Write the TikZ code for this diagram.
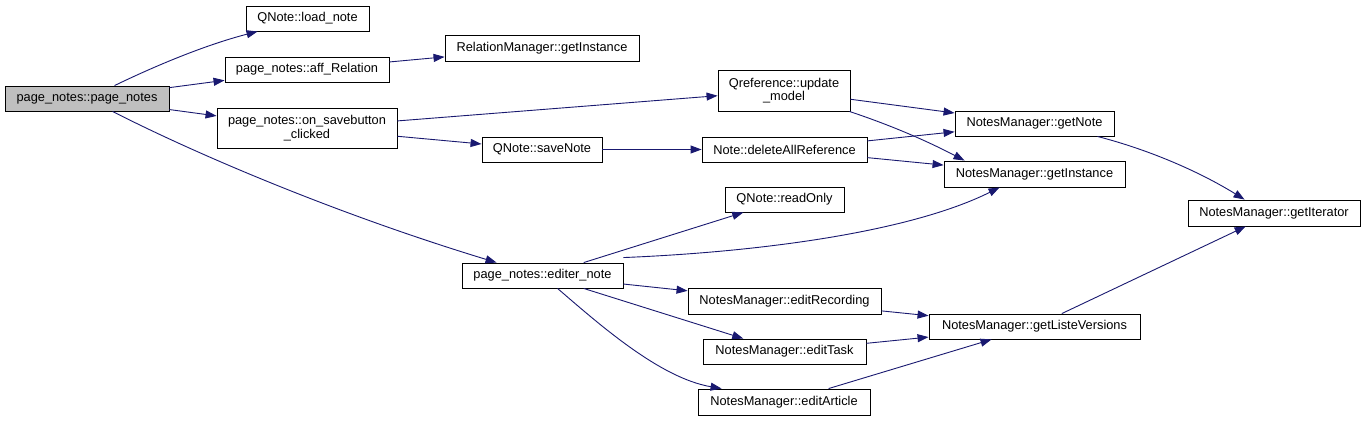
\documentclass[tikz,border=0pt]{standalone}
\usepackage{fontspec}
\setmainfont{Liberation Sans}
\usetikzlibrary{arrows.meta}
\definecolor{edgeblue}{HTML}{191970}
\definecolor{rootgray}{HTML}{BFBFBF}
\begin{document}
\begin{tikzpicture}[x=1pt,y=-1pt,
  fn/.style={draw=black,line width=0.9pt,inner sep=0pt,align=center,font=\fontsize{12.8}{13.5}\selectfont,fill=white},
  call/.style={draw=edgeblue,line width=0.9pt,-{Triangle[length=11pt,width=8pt]},fill=none}]
\useasboundingbox[fill=white] (0,0) rectangle (1365,421);
\node[fn,fill=rootgray,minimum width=164,minimum height=25] (pn) at (87,98.5) {page\_notes::page\_notes};
\node[fn,minimum width=123,minimum height=25] (ln) at (307.5,18.5) {QNote::load\_note};
\node[fn,minimum width=164,minimum height=25] (ar) at (307,69.5) {page\_notes::aff\_Relation};
\node[fn,minimum width=180,minimum height=40] (os) at (307,128) {page\_notes::on\_savebutton\\\_clicked};
\node[fn,minimum width=194,minimum height=26] (rm) at (542,48) {RelationManager::getInstance};
\node[fn,minimum width=132,minimum height=41] (um) at (784,90.5) {Qreference::update\\\_model};
\node[fn,minimum width=120,minimum height=25] (sn) at (542,149.5) {QNote::saveNote};
\node[fn,minimum width=165,minimum height=25] (da) at (784.5,149.5) {Note::deleteAllReference};
\node[fn,minimum width=119,minimum height=25] (ro) at (784.5,199.5) {QNote::readOnly};
\node[fn,minimum width=159,minimum height=25] (gn) at (1034.5,123.5) {NotesManager::getNote};
\node[fn,minimum width=181,minimum height=26] (gi) at (1034.5,174) {NotesManager::getInstance};
\node[fn,minimum width=172,minimum height=26] (it) at (1274,213) {NotesManager::getIterator};
\node[fn,minimum width=211,minimum height=25] (lv) at (1034.5,326.5) {NotesManager::getListeVersions};
\node[fn,minimum width=161,minimum height=25] (en) at (542.5,275.5) {page\_notes::editer\_note};
\node[fn,minimum width=193,minimum height=26] (er) at (784.5,301) {NotesManager::editRecording};
\node[fn,minimum width=163,minimum height=25] (et) at (784.5,351.5) {NotesManager::editTask};
\node[fn,minimum width=172,minimum height=26] (ea) at (784,402) {NotesManager::editArticle};

% curved calls
\draw[call] ([xshift=110pt]pn.north west) .. controls (155,66) and (205,45) .. ([xshift=12pt]ln.south west);
\draw[call] ([xshift=108pt]pn.south west) .. controls (200,156) and (340,215) .. ([xshift=35pt]en.north west);
\draw[call] ([xshift=-1pt]um.south east) .. controls (890,125) and (925,140) .. ([xshift=21pt]gi.north west);
\draw[call] ([xshift=-17pt]gn.south east) .. controls (1150,150) and (1200,172) .. ([xshift=57pt]it.north west);
\draw[call] ([yshift=5pt]en.north east) .. controls (760,252) and (910,232) .. ([xshift=56pt]gi.south west);
\draw[call] ([xshift=96pt]en.south west) .. controls (600,325) and (660,378) .. ([xshift=24pt]ea.north west);

% straight calls
\draw[call] (pn) -- (ar);
\draw[call] (pn) -- (os);
\draw[call] (ar) -- (rm);
\draw[call] (os) -- (um);
\draw[call] (os) -- (sn);
\draw[call] (sn) -- (da);
\draw[call] (um) -- (gn);
\draw[call] (da) -- (gn);
\draw[call] (da) -- (gi);
\draw[call] (en) -- (ro);
\draw[call] (en) -- (er);
\draw[call] (en) -- (et);
\draw[call] (er) -- (lv);
\draw[call] (et) -- (lv);
\draw[call] (ea) -- (lv);
\draw[call] (lv) -- (it);
\end{tikzpicture}
\end{document}
